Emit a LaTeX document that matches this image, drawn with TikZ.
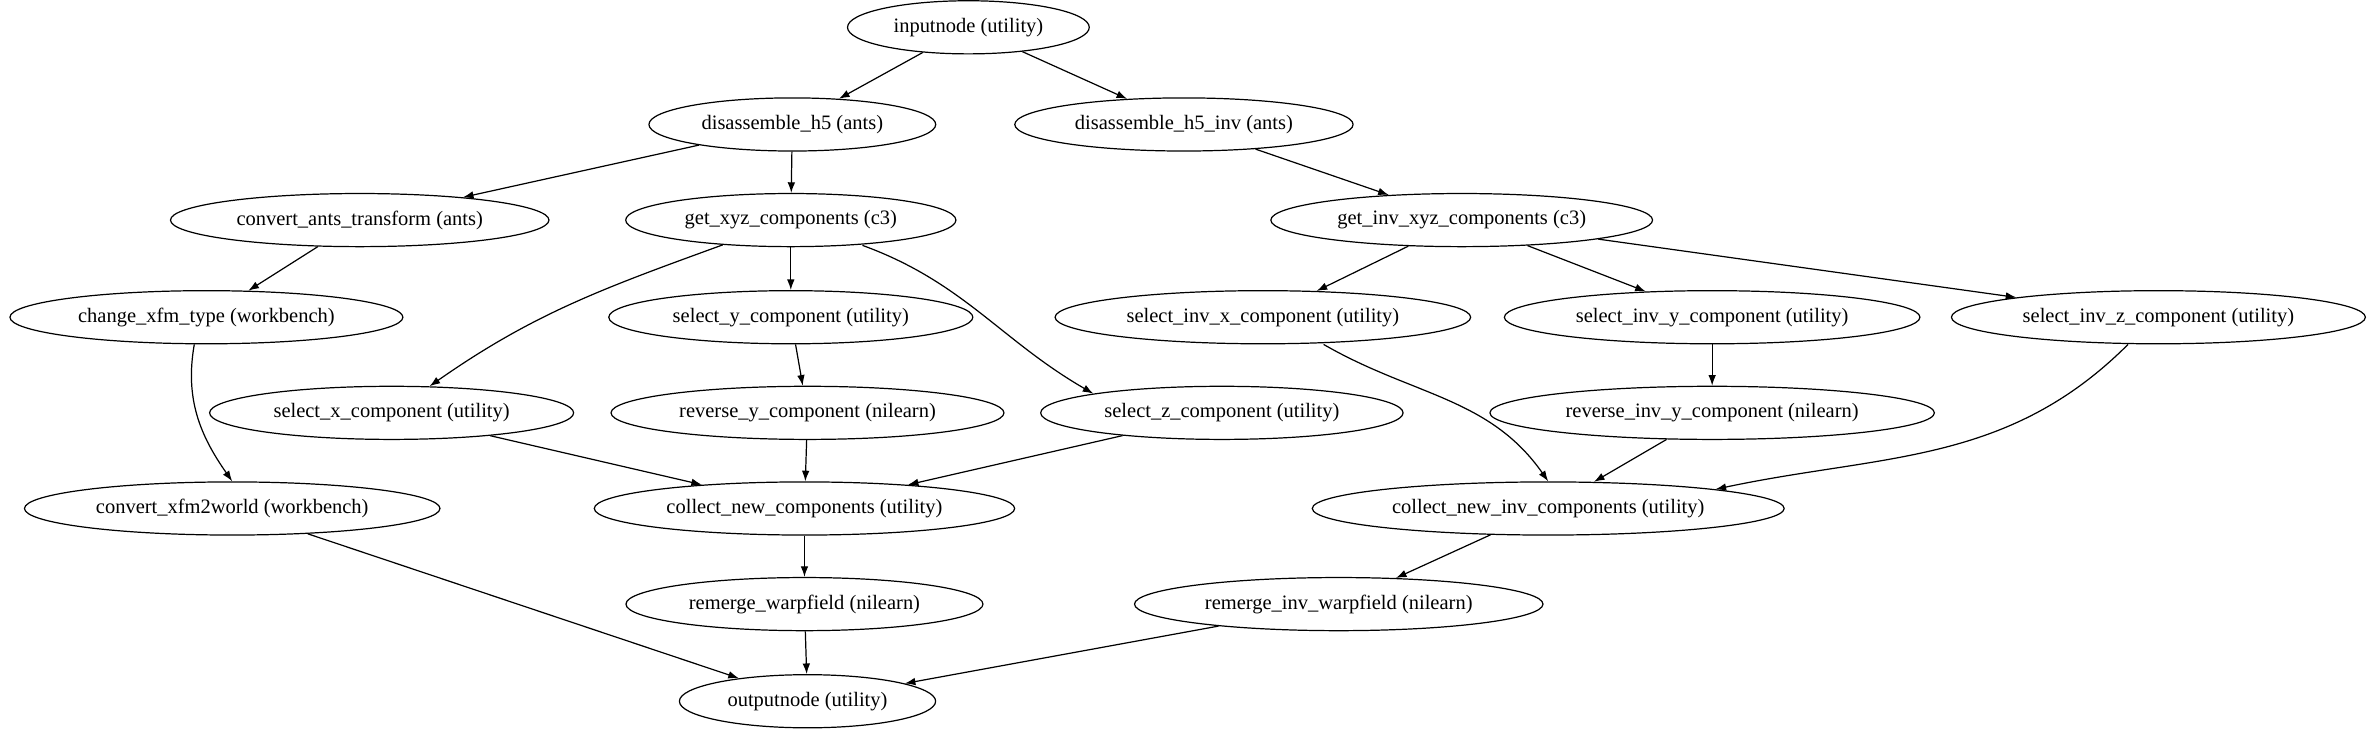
\documentclass[tikz,border=0pt]{standalone}
\usepackage{fontspec}
\setmainfont{Liberation Serif}
\usetikzlibrary{shapes.geometric,arrows.meta}
\begin{document}
\begin{tikzpicture}[x=1pt,y=-1pt,>={Latex[length=7pt,width=5pt]},line width=0.8pt]
\tikzset{every node/.style={shape=ellipse,draw,inner xsep=7pt,inner ysep=1pt,minimum height=35pt,font=\fontsize{13.5}{15}\selectfont}}
\useasboundingbox (0,0) rectangle (1568,481);
\node (inp) at (638,18) {inputnode (utility)};
\node (dis) at (522,82) {disassemble\_h5 (ants)};
\node (disinv) at (780,82) {disassemble\_h5\_inv (ants)};
\node (conv) at (237,145) {convert\_ants\_transform (ants)};
\node (xyz) at (521,145) {get\_xyz\_components (c3)};
\node (invxyz) at (963,145) {get\_inv\_xyz\_components (c3)};
\node (chg) at (136,209) {change\_xfm\_type (workbench)};
\node (sely) at (521,209) {select\_y\_component (utility)};
\node (invx) at (832,209) {select\_inv\_x\_component (utility)};
\node (invy) at (1128,209) {select\_inv\_y\_component (utility)};
\node (invz) at (1422,209) {select\_inv\_z\_component (utility)};
\node (selx) at (258,272) {select\_x\_component (utility)};
\node (revy) at (532,272) {reverse\_y\_component (nilearn)};
\node (selz) at (805,272) {select\_z\_component (utility)};
\node (revinvy) at (1128,272) {reverse\_inv\_y\_component (nilearn)};
\node (world) at (153,335) {convert\_xfm2world (workbench)};
\node (col) at (530,335) {collect\_new\_components (utility)};
\node (colinv) at (1020,335) {collect\_new\_inv\_components (utility)};
\node (rem) at (530,398) {remerge\_warpfield (nilearn)};
\node (reminv) at (882,398) {remerge\_inv\_warpfield (nilearn)};
\node (out) at (532,462) {outputnode (utility)};
% edges
\draw[->] (inp) -- (dis);
\draw[->] (inp) -- (disinv);
\draw[->] (dis) -- (conv);
\draw[->] (dis) -- (xyz);
\draw[->] (disinv) -- (invxyz);
\draw[->] (conv) -- (chg);
\draw[->] (chg.south) ++(-8,0) to[out=-100,in=125] (world.north);
\draw[->] (xyz) to[out=-160,in=35] (selx);
\draw[->] (xyz) -- (sely);
\draw[->] (xyz.south east) ++(-30,4) to[out=-20,in=150] (selz.north west);
\draw[->] (sely) -- (revy);
\draw[->] (invxyz) -- (invx);
\draw[->] (invxyz) -- (invy);
\draw[->] (invxyz) -- (invz);
\draw[->] (invy) -- (revinvy);
\draw[->] (selx) -- (col);
\draw[->] (revy) -- (col);
\draw[->] (selz) -- (col);
\draw[->] (invx.south) ++(40,0) to[out=-30,in=125] (colinv.north);
\draw[->] (revinvy) -- (colinv);
\draw[->] (invz.south) ++(-20,0) to[out=-135,in=12] (colinv.north east);
\draw[->] (col) -- (rem);
\draw[->] (colinv) -- (reminv);
\draw[->] (world) -- (out);
\draw[->] (rem) -- (out);
\draw[->] (reminv) -- (out);
\end{tikzpicture}
\end{document}
